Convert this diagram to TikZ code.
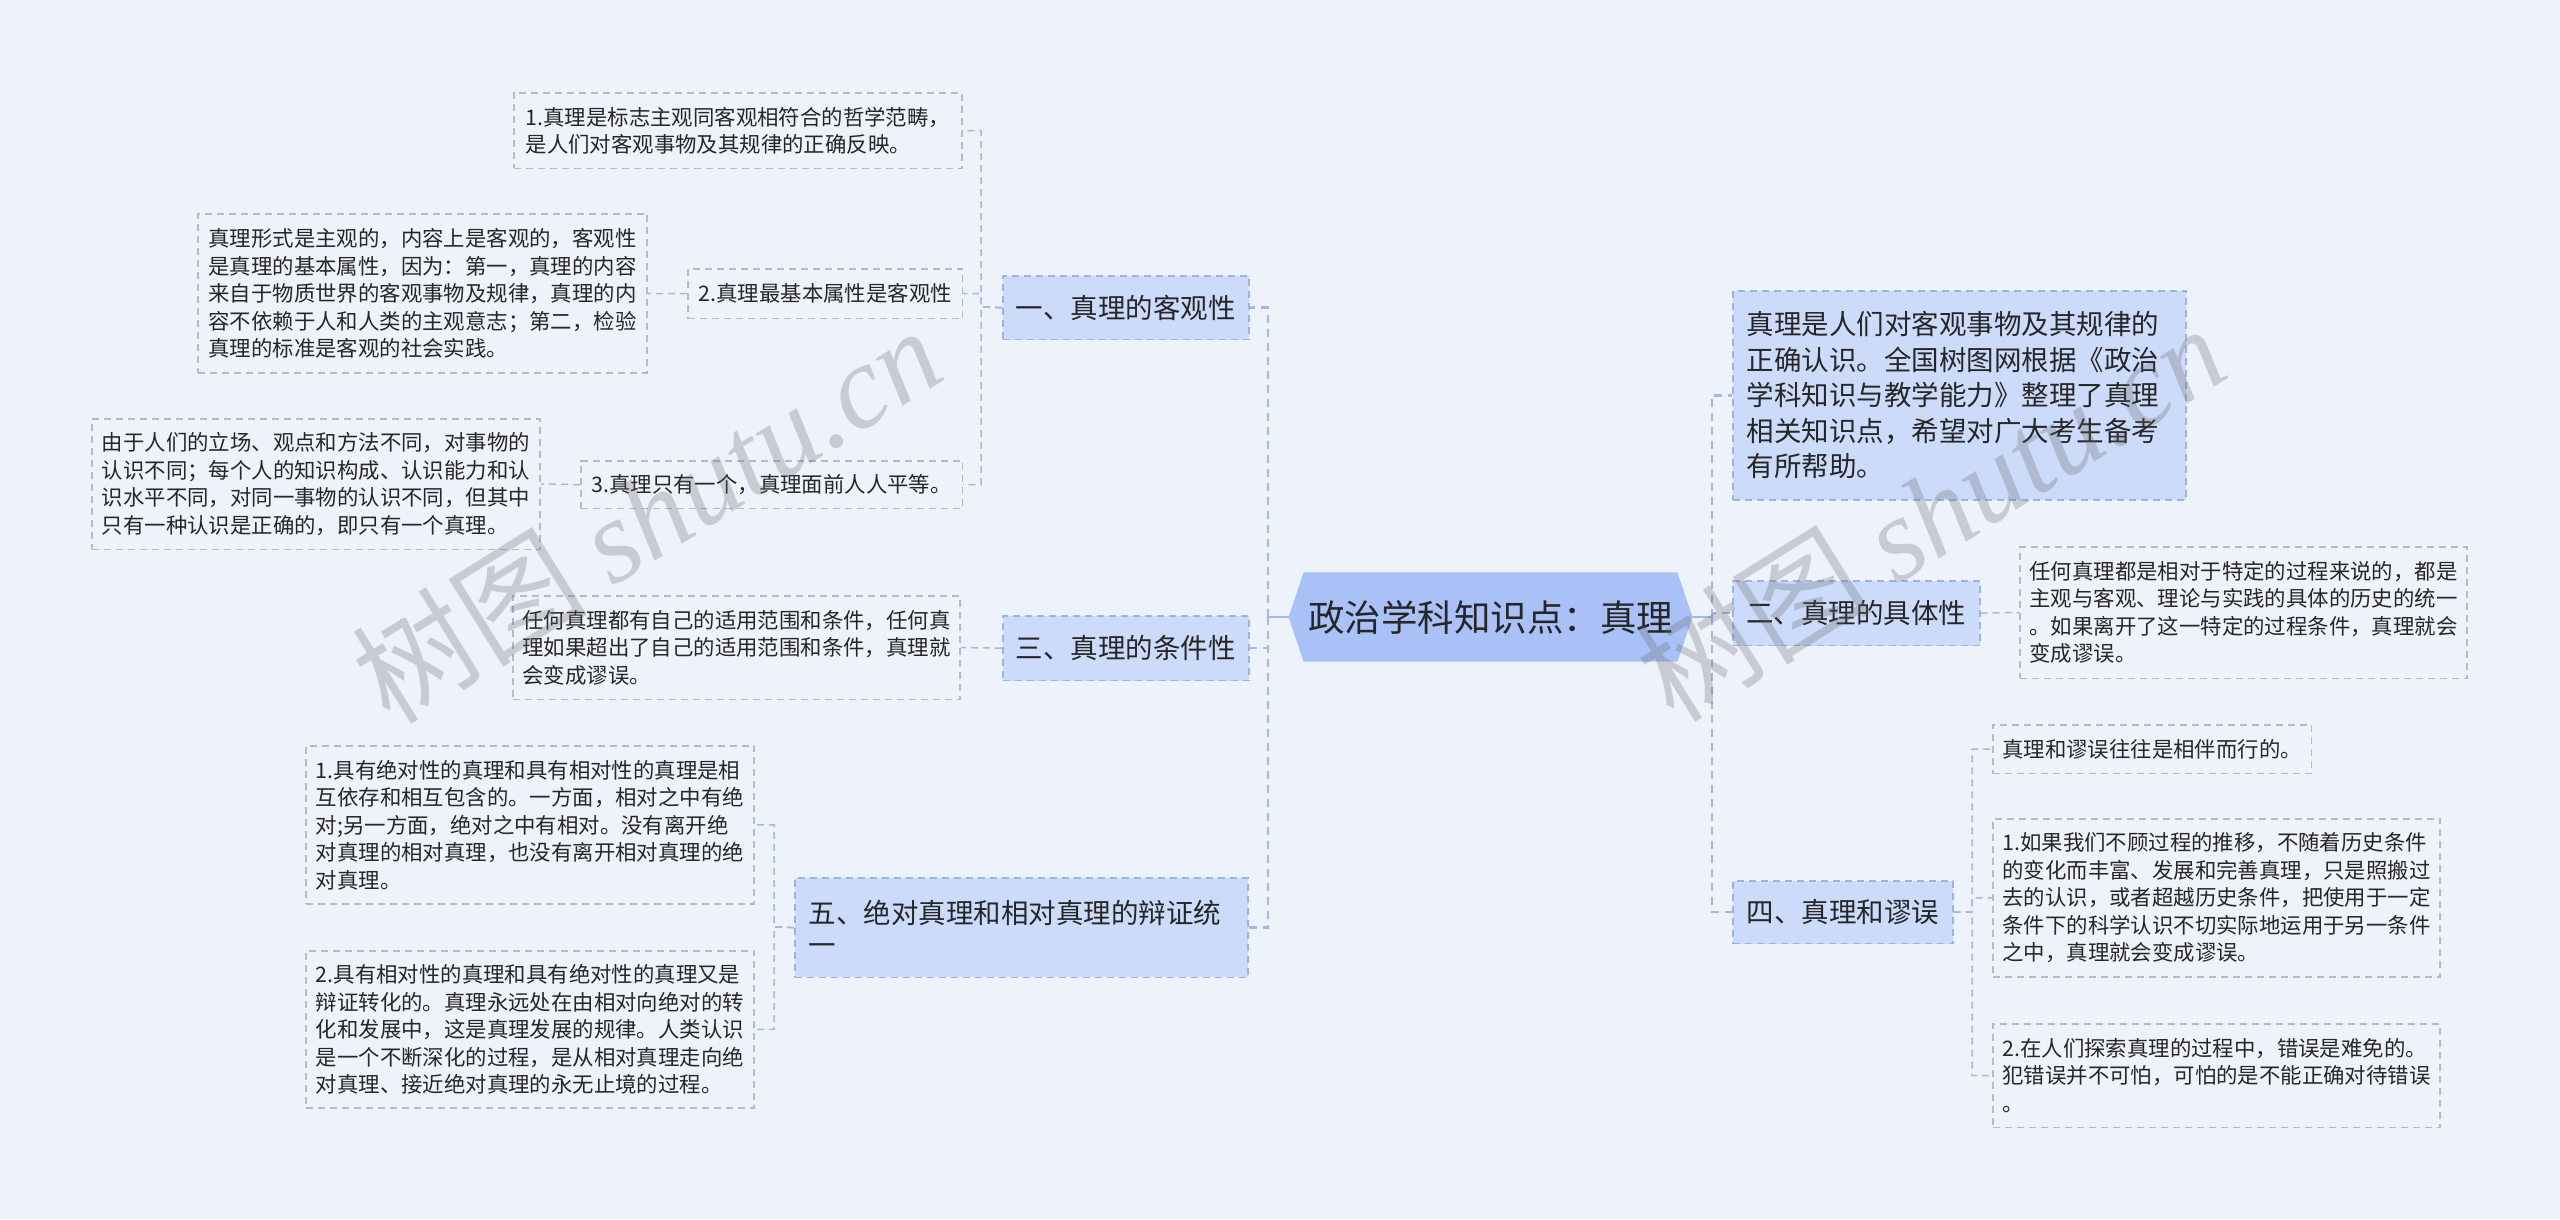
\documentclass[tikz,border=0pt]{standalone}
\usepackage{fontspec}
\setmainfont{Noto Sans CJK SC}
\newfontfamily\wmfont{Liberation Serif}
\definecolor{bgc}{HTML}{EEF2FB}
\definecolor{rootfill}{HTML}{A9C1F7}
\definecolor{lvlfill}{HTML}{CCDBFA}
\definecolor{lvlborder}{HTML}{9DB3E8}
\definecolor{leafborder}{HTML}{ADBBD9}
\definecolor{connc}{HTML}{A3B9EA}
\definecolor{txt}{HTML}{262626}
\pgfdeclarelayer{back}
\pgfsetlayers{back,main}
\tikzset{
  leafbox/.style={draw=leafborder, line width=1.5bp, dash pattern=on 7bp off 5bp, inner sep=0pt,
    anchor=north west, align=left, text=txt, font=\fontsize{21.4bp}{27.5bp}\selectfont},
  lvlbox/.style={fill=lvlfill, draw=lvlborder, line width=1.5bp, dash pattern=on 7bp off 5bp, inner sep=0pt,
    anchor=north west, align=center, text=txt, font=\fontsize{27.5bp}{32bp}\selectfont},
  rootnode/.style={inner sep=0pt, text=txt, font=\fontsize{36.5bp}{40bp}\selectfont},
  trunkline/.style={draw=connc, line width=2.5bp, dash pattern=on 8bp off 6bp},
  twig/.style={draw=connc, line width=1.5bp, dash pattern=on 7bp off 5bp},
  solidline/.style={draw=connc, line width=2.5bp},
  wmark/.style={rotate=32, text=black!60, text opacity=0.28, font=\fontsize{118bp}{118bp}\selectfont},
}
\begin{document}
\begin{tikzpicture}[x=1bp,y=-1bp]
\useasboundingbox (0,0) rectangle (2560,1219);

% central node
\node[rootnode, minimum width=405, minimum height=89] (c) at (1490.5,617) {政治学科知识点：真理};

% level-1 nodes
\node[lvlbox, minimum width=247, minimum height=64] (L1) at (1002,275) {一、真理的客观性};
\node[lvlbox, minimum width=247, minimum height=65] (L3) at (1002,615) {三、真理的条件性};
\node[lvlbox, minimum width=455, minimum height=100, text width=427, align=left] (L5) at (794,877) {五、绝对真理和相对真理的辩证统\\一};
\node[lvlbox, minimum width=455, minimum height=210, text width=427, align=left,
      font=\fontsize{27.5bp}{35.5bp}\selectfont] (R0) at (1732,290)
  {真理是人们对客观事物及其规律的\\正确认识。全国树图网根据《政治\\学科知识与教学能力》整理了真理\\相关知识点，希望对广大考生备考\\有所帮助。};
\node[lvlbox, minimum width=248, minimum height=65] (R2) at (1732,580) {二、真理的具体性};
\node[lvlbox, minimum width=221, minimum height=63] (R4) at (1732,880) {四、真理和谬误};

% leaves
\node[leafbox, minimum width=450, minimum height=76] (L1a) at (513,92)
  {1.真理是标志主观同客观相符合的哲学范畴，\\是人们对客观事物及其规律的正确反映。};
\node[leafbox, minimum width=276, minimum height=50] (L1b) at (687,268) {2.真理最基本属性是客观性};
\node[leafbox, minimum width=451, minimum height=160] (L1b1) at (197,213)
  {真理形式是主观的，内容上是客观的，客观性\\是真理的基本属性，因为：第一，真理的内容\\来自于物质世界的客观事物及规律，真理的内\\容不依赖于人和人类的主观意志；第二，检验\\真理的标准是客观的社会实践。};
\node[leafbox, minimum width=383, minimum height=48] (L1c) at (580,460) {3.真理只有一个，真理面前人人平等。};
\node[leafbox, minimum width=450, minimum height=131] (L1c1) at (91,418)
  {由于人们的立场、观点和方法不同，对事物的\\认识不同；每个人的知识构成、认识能力和认\\识水平不同，对同一事物的认识不同，但其中\\只有一种认识是正确的，即只有一个真理。};
\node[leafbox, minimum width=449, minimum height=104] (L3a) at (512,595)
  {任何真理都有自己的适用范围和条件，任何真\\理如果超出了自己的适用范围和条件，真理就\\会变成谬误。};
\node[leafbox, minimum width=450, minimum height=159] (L5a) at (305,745)
  {1.具有绝对性的真理和具有相对性的真理是相\\互依存和相互包含的。一方面，相对之中有绝\\对;另一方面，绝对之中有相对。没有离开绝\\对真理的相对真理，也没有离开相对真理的绝\\对真理。};
\node[leafbox, minimum width=450, minimum height=158] (L5b) at (305,950)
  {2.具有相对性的真理和具有绝对性的真理又是\\辩证转化的。真理永远处在由相对向绝对的转\\化和发展中，这是真理发展的规律。人类认识\\是一个不断深化的过程，是从相对真理走向绝\\对真理、接近绝对真理的永无止境的过程。};
\node[leafbox, minimum width=449, minimum height=132] (R2a) at (2019,546)
  {任何真理都是相对于特定的过程来说的，都是\\主观与客观、理论与实践的具体的历史的统一\\。如果离开了这一特定的过程条件，真理就会\\变成谬误。};
\node[leafbox, minimum width=320, minimum height=49] (R4a) at (1992,724) {真理和谬误往往是相伴而行的。};
\node[leafbox, minimum width=449, minimum height=159] (R4b) at (1992,818)
  {1.如果我们不顾过程的推移，不随着历史条件\\的变化而丰富、发展和完善真理，只是照搬过\\去的认识，或者超越历史条件，把使用于一定\\条件下的科学认识不切实际地运用于另一条件\\之中，真理就会变成谬误。};
\node[leafbox, minimum width=449, minimum height=104] (R4c) at (1992,1023)
  {2.在人们探索真理的过程中，错误是难免的。\\犯错误并不可怕，可怕的是不能正确对待错误\\。};

% background and central shape
\begin{pgfonlayer}{back}
  \fill[bgc] (0,0) rectangle (2560,1219);
  \fill[rootfill] (c.west) -- ([xshift=15bp]c.north west) -- ([xshift=-15bp]c.north east)
     -- (c.east) -- ([xshift=-15bp]c.south east) -- ([xshift=15bp]c.south west) -- cycle;
\end{pgfonlayer}

% junction points
\coordinate (lt) at (1268,617);
\coordinate (rt) at (1712,617);
\coordinate (t1) at (981,307);
\coordinate (t5) at (774,927);
\coordinate (t4) at (1972,912);

% connectors
\draw[solidline] (c.west) -- (lt);
\draw[solidline] (c.east) -- (rt);
\draw[trunkline] (lt) |- (L1.east);
\draw[trunkline] (lt) |- (L3.east);
\draw[trunkline] (lt) |- (L5.east);
\draw[trunkline] (rt) |- (R0.west);
\draw[trunkline] (rt) |- (R2.west);
\draw[trunkline] (rt) |- (R4.west);

\draw[twig] (L1.west) -- (t1) |- (L1a.east);
\draw[twig] (L1.west) -- (t1) |- (L1b.east);
\draw[twig] (L1.west) -- (t1) |- (L1c.east);
\draw[twig] (L1b.west) -- (L1b1.east);
\draw[twig] (L1c.west) -- (L1c1.east);
\draw[twig] (L3.west) -- (L3a.east);
\draw[twig] (L5.west) -- (t5) |- (L5a.east);
\draw[twig] (L5.west) -- (t5) |- (L5b.east);
\draw[twig] (R2.east) -- (R2a.west);
\draw[twig] (R4.east) -- (t4) |- (R4a.west);
\draw[twig] (R4.east) -- (t4) |- (R4b.west);
\draw[twig] (R4.east) -- (t4) |- (R4c.west);

% watermarks
\node[wmark] (wm1) at (646,514) {树图 {\wmfont\itshape shutu.cn}};
\node[wmark] (wm2) at (1930,512) {树图 {\wmfont\itshape shutu.cn}};
\end{tikzpicture}
\end{document}
